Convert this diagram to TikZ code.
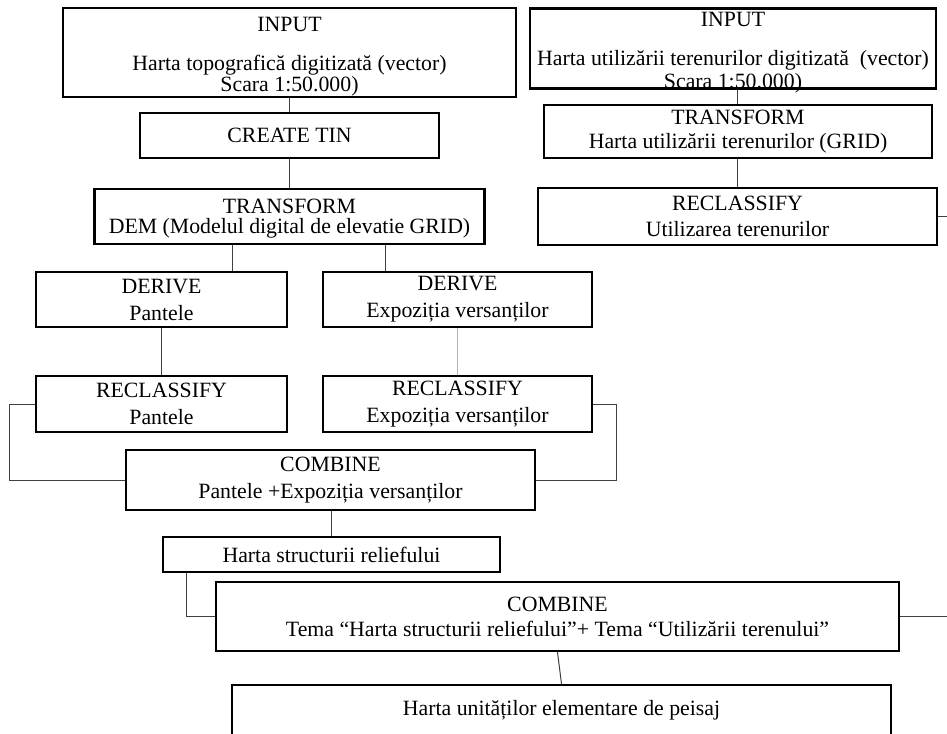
\documentclass[tikz,border=0pt]{standalone}
\usepackage{fontspec}
\setmainfont{Liberation Serif}

\newcommand{\pushdown}[1]{\rule{0pt}{#1}}

\begin{document}
\begin{tikzpicture}[
    x=1pt, y=-1pt,
    b/.style={rectangle, draw, line width=2.4pt, inner sep=0pt, align=center, font=\fontsize{21.8}{26}\selectfont},
    a/.style={draw=black!75, line width=1pt},
    d/.style={draw=black!30, line width=1pt},
]
\useasboundingbox (0,0) rectangle (947,733);

% Relief branch
\node[b, minimum width=453pt, minimum height=89pt] (inL) at (289.5,52.5) {\pushdown{22pt}INPUT\\[13pt]Harta topografică digitizată (vector)\\[-5pt]Scara 1:50.000)};
\node[b, minimum width=299pt, minimum height=45pt] (tin) at (289.5,135.5) {CREATE TIN};
\node[b, minimum width=390pt, minimum height=55pt] (dem) at (289.5,216.5) {\pushdown{18pt}TRANSFORM\\[-6pt]DEM (Modelul digital de elevatie GRID)};
\node[b, minimum width=251pt, minimum height=55pt] (derP) at (161.5,299.5) {DERIVE\\[1pt]Pantele};
\node[b, minimum width=269pt, minimum height=55pt] (derE) at (457.5,299.5) {DERIVE\\[1pt]Expoziția versanților};
\node[b, minimum width=251pt, minimum height=56pt] (reP) at (161.5,404) {RECLASSIFY\\[1pt]Pantele};
\node[b, line width=1.6pt, minimum width=269pt, minimum height=56pt] (reE) at (457.5,404) {RECLASSIFY\\[1pt]Expoziția versanților};
\node[b, minimum width=409pt, minimum height=60pt] (comb1) at (330.5,480) {COMBINE\\[1pt]Pantele +Expoziția versanților};
\node[b, minimum width=337pt, minimum height=35pt] (relief) at (331.5,554.5) {Harta structurii reliefului};

% Land use branch
\node[b, minimum width=406pt, minimum height=79pt, inner ysep=-4.8pt] (inR) at (733,48.5) {\pushdown{22.8pt}INPUT\\[13pt]Harta utilizării terenurilor digitizată \ (vector)\\[-3pt]Scara 1:50.000)};
\node[b, minimum width=388pt, minimum height=53pt] (trR) at (738,131.5) {TRANSFORM\\[-2pt]Harta utilizării terenurilor (GRID)};
\node[b, minimum width=399pt, minimum height=57pt] (reU) at (737.5,216.5) {RECLASSIFY\\Utilizarea terenurilor};

% Result
\node[b, minimum width=683pt, minimum height=69pt] (comb2) at (557.5,616.5) {COMBINE\\[-1pt]Tema “Harta structurii reliefului”+ Tema “Utilizării terenului”};
\node[b, minimum width=659pt, minimum height=51pt] (peisaj) at (561.5,710.5) {Harta unităților elementare de peisaj};

\coordinate (rim) at (947,0);

% Connectors
\draw[a] (inL) -- (tin);
\draw[a] (tin) -- (dem);
\draw[a] (232,0 |- dem.south) -- (232,0 |- derP.north);
\draw[a] (385,0 |- dem.south) -- (385,0 |- derE.north);
\draw[a] (derP) -- (reP);
\draw[d] (derE) -- (reE);
\draw[a] (reP.west) -- ++(-25,0) |- (comb1.west);
\draw[a] (reE.east) -- ++(24,0) |- (comb1.east);
\draw[a] (relief.north |- comb1.south) -- (relief.north);
\draw[a] (186,0 |- relief.south) |- (comb2.west);
\draw[a] (comb2.south) -- (peisaj.north);

\draw[a] (737,0 |- inR.south) -- (737,0 |- trR.north);
\draw[a] (737,0 |- trR.south) -- (737,0 |- reU.north);
\draw[a] (reU.east) -- (reU.east -| rim);
\draw[a] (comb2.east) -- (comb2.east -| rim);
\end{tikzpicture}
\end{document}
